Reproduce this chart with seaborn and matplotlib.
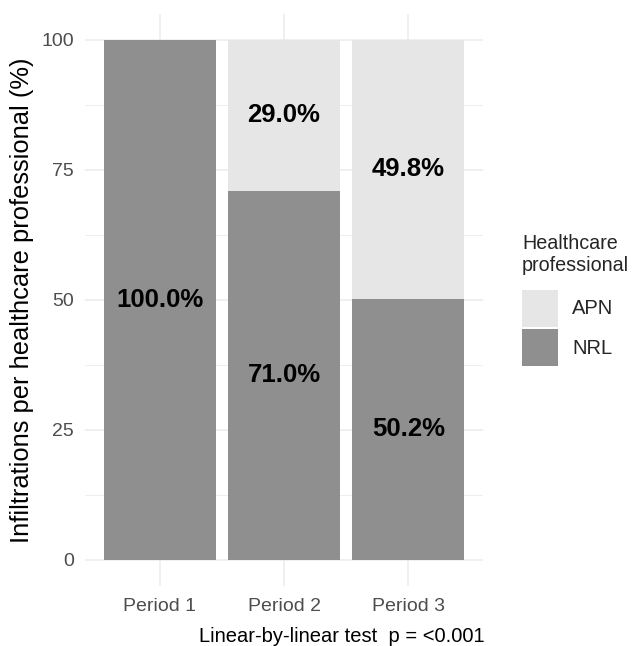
import matplotlib
matplotlib.use("Agg")
import matplotlib.pyplot as plt
import seaborn as sns
import pandas as pd
from matplotlib.patches import Patch
from matplotlib.ticker import MultipleLocator

periods = ["Period 1", "Period 2", "Period 3"]
nrl = [100.0, 71.0, 50.2]
apn = [0.0, 29.0, 49.8]
professionals = ["APN", "NRL"]
colors = {"APN": "#e6e6e6", "NRL": "#8f8f8f"}
caption = "Linear-by-linear test  p = <0.001"

sns.set_theme(style="white")
plt.rcParams["font.family"] = ["Liberation Sans", "DejaVu Sans"]

df = pd.DataFrame({"period": periods, "NRL": nrl, "APN": apn})
df["total"] = df["NRL"] + df["APN"]

fig = plt.figure(figsize=(6.33, 6.46), dpi=100)
ax = fig.add_axes([85 / 633, 60 / 646, (483 - 85) / 633, (586 - 14) / 646])

sns.barplot(data=df, x="period", y="total", color=colors["APN"], width=0.9,
            saturation=1, ax=ax, zorder=2, linewidth=0, edgecolor="none")
sns.barplot(data=df, x="period", y="NRL", color=colors["NRL"], width=0.9,
            saturation=1, ax=ax, zorder=3, linewidth=0, edgecolor="none")

for i, row in df.iterrows():
    if row["NRL"] > 0:
        ax.text(i, row["NRL"] / 2, f"{row['NRL']:.1f}%", ha="center", va="center",
                fontsize=18.5, fontweight="bold", color="black", zorder=5)
    if row["APN"] > 0:
        ax.text(i, row["NRL"] + row["APN"] / 2, f"{row['APN']:.1f}%", ha="center",
                va="center", fontsize=18.5, fontweight="bold", color="black", zorder=5)

ax.set_ylim(-5, 105)
ax.set_xlim(-0.6, 2.6)
ax.yaxis.set_major_locator(MultipleLocator(25))
ax.yaxis.set_minor_locator(MultipleLocator(12.5))
ax.grid(True, which="major", color="#ebebeb", linewidth=1.1, zorder=0)
ax.grid(True, which="minor", axis="y", color="#ebebeb", linewidth=0.6, zorder=0)
ax.set_axisbelow(True)
for s in ax.spines.values():
    s.set_visible(False)
ax.tick_params(axis="both", which="both", length=0, labelsize=14,
               labelcolor="#4d4d4d")
ax.tick_params(axis="y", pad=8)
ax.tick_params(axis="x", pad=8.5)
ax.set_xlabel("")
ax.set_ylabel("Infiltrations per healthcare professional (%)", fontsize=18.4,
              color="black", labelpad=5)

handles = [Patch(facecolor=colors[p], edgecolor="none", linewidth=0) for p in professionals]
leg = fig.legend(handles, professionals, title="Healthcare\nprofessional",
                 loc="upper left", bbox_to_anchor=(514 / 633, 1 - 226 / 646),
                 frameon=False, fontsize=14.5, title_fontsize=14.2,
                 handlelength=1.8, handleheight=2.45, labelspacing=0.12,
                 handletextpad=0.7, alignment="left", borderaxespad=0)
leg._legend_box.sep = 10.5

fig.text(485 / 633, 1 - 637 / 646, caption, ha="right", va="center",
         fontsize=14.5, color="black")

fig.savefig("out.png", dpi=100)
